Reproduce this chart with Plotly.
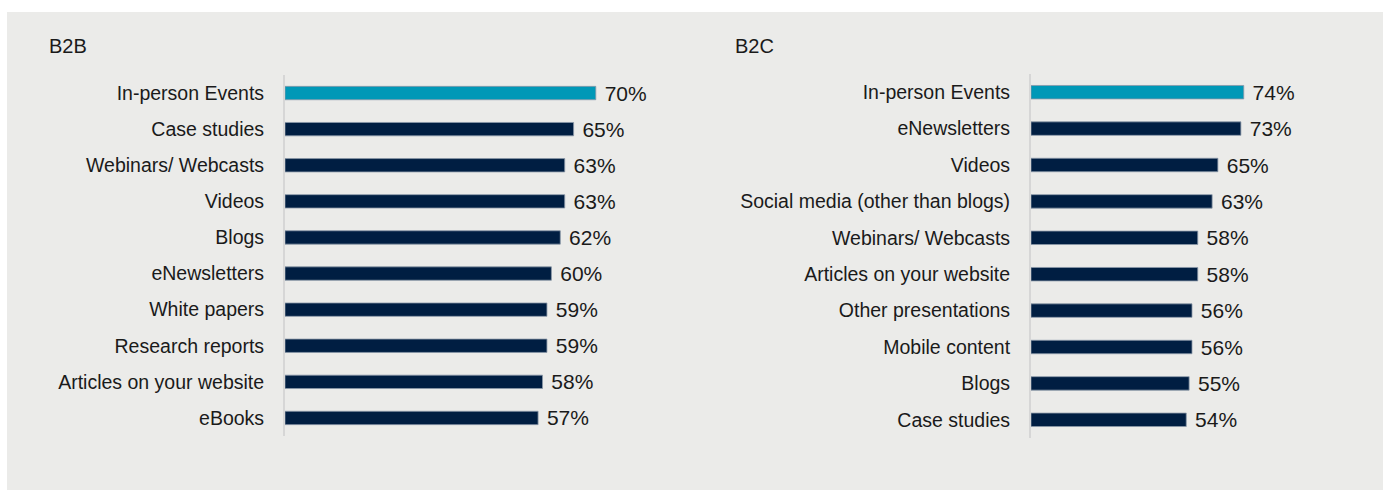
import plotly.graph_objects as go

b2b_cats = ["In-person Events", "Case studies", "Webinars/ Webcasts", "Videos", "Blogs",
            "eNewsletters", "White papers", "Research reports", "Articles on your website", "eBooks"]
b2b_vals = [70, 65, 63, 63, 62, 60, 59, 59, 58, 57]

b2c_cats = ["In-person Events", "eNewsletters", "Videos", "Social media (other than blogs)",
            "Webinars/ Webcasts", "Articles on your website", "Other presentations",
            "Mobile content", "Blogs", "Case studies"]
b2c_vals = [74, 73, 65, 63, 58, 58, 56, 56, 55, 54]

TEAL = "#0098b7"
NAVY = "#001e42"
W, H = 1389, 490
FONT = "Liberation Sans, Arial, sans-serif"

def colors(n):
    return [TEAL] + [NAVY] * (n - 1)

def bar(cats, vals, xa, ya):
    return go.Bar(
        y=cats, x=vals, orientation="h", xaxis=xa, yaxis=ya,
        marker=dict(color=colors(len(vals)), line=dict(color="#8a98a8", width=0.8)),
        width=0.37, text=[f" {v}%" for v in vals], textposition="outside",
        constraintext="none", cliponaxis=False,
        textfont=dict(size=21, color="#1a1a1a", family=FONT),
        hoverinfo="skip")

fig = go.Figure()
fig.add_trace(bar(b2b_cats, b2b_vals, "x", "y"))
fig.add_trace(bar(b2c_cats, b2c_vals, "x2", "y2"))

def px_x(p):
    return p / W

def px_y(p):
    return 1 - p / H

ax_common = dict(showgrid=False, zeroline=False, showticklabels=False, ticks="", fixedrange=True)
ycommon = dict(autorange="reversed", showgrid=False, zeroline=False, ticks="",
               showline=True, linecolor="#d6d6d6", linewidth=2,
               tickfont=dict(size=19.5, color="#1a1a1a", family=FONT),
               ticklabelstandoff=15, fixedrange=True)

fig.update_layout(
    width=W, height=H,
    margin=dict(l=0, r=0, t=0, b=0),
    paper_bgcolor="white", plot_bgcolor="rgba(0,0,0,0)",
    showlegend=False,
    xaxis=dict(domain=[px_x(285), px_x(285 + 4.44 * 80)], range=[0, 80], **ax_common),
    yaxis=dict(domain=[px_y(436), px_y(75)], anchor="x", **ycommon),
    xaxis2=dict(domain=[px_x(1031), px_x(1031 + 2.875 * 100)], range=[0, 100], **ax_common),
    yaxis2=dict(domain=[px_y(438), px_y(74)], anchor="x2", **ycommon),
    shapes=[dict(type="rect", xref="paper", yref="paper",
                 x0=px_x(7), x1=px_x(1383), y0=0, y1=px_y(12),
                 fillcolor="#ebebe9", line=dict(width=0), layer="below")],
    annotations=[
        dict(text="B2B", xref="paper", yref="paper", x=px_x(47), y=px_y(46),
             xanchor="left", yanchor="middle", showarrow=False,
             font=dict(size=20, color="#1a1a1a", family=FONT)),
        dict(text="B2C", xref="paper", yref="paper", x=px_x(733), y=px_y(46),
             xanchor="left", yanchor="middle", showarrow=False,
             font=dict(size=20, color="#1a1a1a", family=FONT)),
    ],
)

fig.write_html("out.html", config={"displayModeBar": False})
